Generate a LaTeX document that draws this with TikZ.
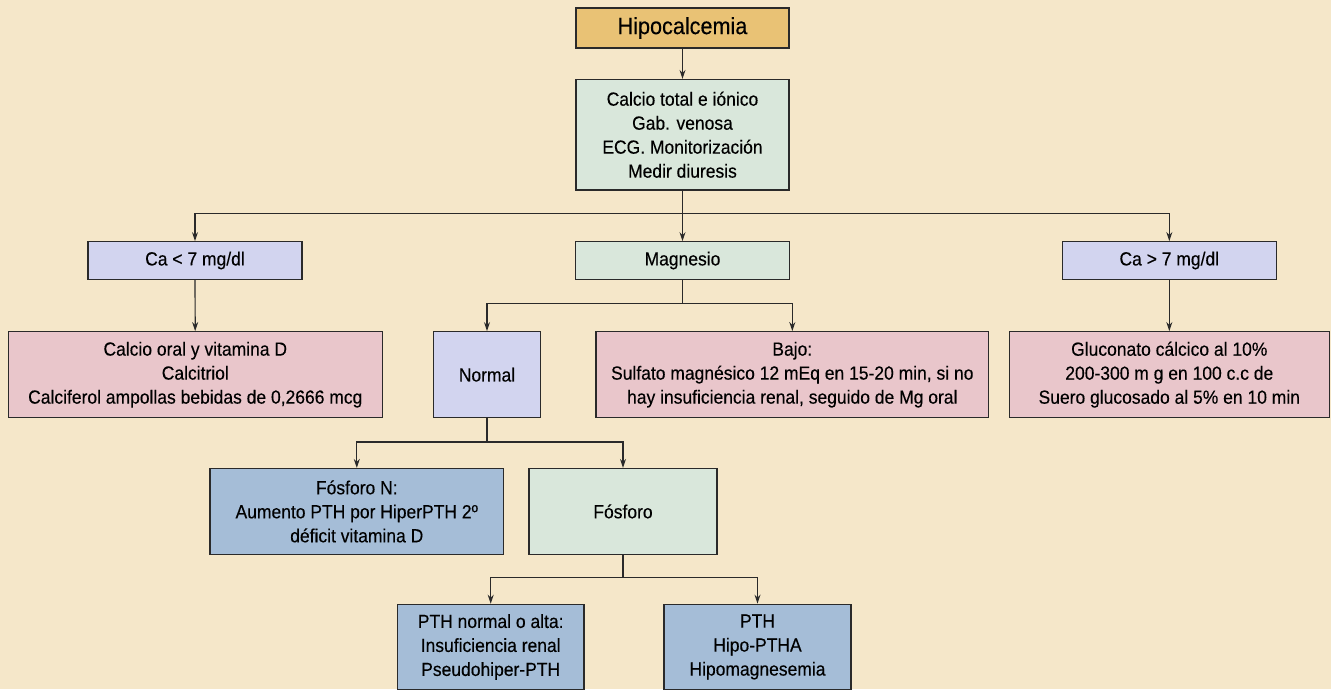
\documentclass[tikz,border=0pt]{standalone}
\usepackage{fontspec}
\setmainfont{Liberation Sans}[FakeStretch=0.92,FakeBold=0.25]
\usetikzlibrary{arrows.meta}
\definecolor{bg}{HTML}{F5E7C9}
\definecolor{gold}{HTML}{E9C275}
\definecolor{sage}{HTML}{D9E7DB}
\definecolor{lav}{HTML}{D2D4EF}
\definecolor{rose}{HTML}{E9C6CB}
\definecolor{steel}{HTML}{A5BDD7}
\definecolor{ink}{HTML}{2A2A2A}
\tikzset{
  box/.style={draw=ink, line width=1.2pt, inner sep=0pt, align=center,
    font=\fontsize{19}{24}\selectfont, text=black},
  arr/.style={draw=ink, line width=1.2pt, -{Stealth[length=9pt,width=6pt]}},
  ln/.style={draw=ink, line width=1.2pt}
}
\begin{document}
\begin{tikzpicture}[x=1pt,y=-1pt]
\useasboundingbox (0,0) rectangle (1331,689);
\fill[bg] (0,0) rectangle (1331,689);
\clip (0,0) rectangle (1331,689);
% nodes
\node[box, fill=gold, minimum width=213pt, minimum height=40pt, font=\fontsize{23.5}{28}\selectfont] (hipo) at (682.5,28) {Hipocalcemia};
\node[box, fill=sage, minimum width=213pt, minimum height=110.5pt] (calcio) at (682.5,134.75) {Calcio total e iónico\\Gab. venosa\\ECG. Monitorización\\Medir diuresis};
\node[box, fill=lav, minimum width=214pt, minimum height=37.6pt] (cal) at (195,260.5) {Ca < 7 mg/dl};
\node[box, fill=sage, minimum width=213.5pt, minimum height=37.6pt] (mag) at (682.5,260.5) {Magnesio};
\node[box, fill=lav, minimum width=214pt, minimum height=37.6pt] (cag) at (1169.3,260.5) {Ca > 7 mg/dl};
\node[box, fill=rose, minimum width=374pt, minimum height=86pt] (oral) at (195.3,374.7) {Calcio oral y vitamina D\\Calcitriol\\Calciferol ampollas bebidas de 0,2666 mcg};
\node[box, fill=lav, minimum width=107.4pt, minimum height=86pt] (normal) at (487,374.7) {Normal};
\node[box, fill=rose, minimum width=392.7pt, minimum height=86pt] (bajo) at (792.3,374.7) {Bajo:\\Sulfato magnésico 12 mEq en 15-20 min, si no\\hay insuficiencia renal, seguido de Mg oral};
\node[box, fill=rose, minimum width=320pt, minimum height=86pt] (gluc) at (1169.3,374.7) {Gluconato cálcico al 10\%\\200-300 m g en 100 c.c de\\Suero glucosado al 5\% en 10 min};
\node[box, fill=steel, minimum width=293.6pt, minimum height=85.8pt] (fosn) at (356.8,511.4) {Fósforo N:\\Aumento PTH por HiperPTH 2º\\déficit vitamina D};
\node[box, fill=sage, minimum width=188pt, minimum height=85.8pt] (fos) at (623,511.4) {Fósforo};
\node[box, fill=steel, minimum width=186.7pt, minimum height=85.5pt] (pthn) at (490.7,647) {PTH normal o alta:\\Insuficiencia renal\\Pseudohiper-PTH};
\node[box, fill=steel, minimum width=187pt, minimum height=85.5pt] (pth) at (757.5,647) {PTH\\Hipo-PTHA\\Hipomagnesemia};
% junctions
\coordinate (j1) at (682.5,213.3);
\coordinate (j2) at (682.5,303.3);
\coordinate (j3) at (487,442);
\coordinate (j4) at (623,577.7);
% connectors
\draw[arr] (hipo) -- (calcio);
\draw[ln] (calcio.south) -- (j1);
\draw[arr] (j1) -| (cal.north);
\draw[arr] (j1) -| (cag.north);
\draw[arr] (j1) -- (mag.north);
\draw[arr] (cal) -- (oral);
\draw[arr] (cag) -- (gluc);
\draw[ln] (mag.south) -- (j2);
\draw[arr] (j2) -| (normal.north);
\draw[arr] (j2) -| (bajo.north);
\draw[ln] (normal.south) -- (j3);
\draw[arr] (j3) -| (fosn.north);
\draw[arr] (j3) -| (fos.north);
\draw[ln] (fos.south) -- (j4);
\draw[arr] (j4) -| (pthn.north);
\draw[arr] (j4) -| (pth.north);
\end{tikzpicture}
\end{document}
